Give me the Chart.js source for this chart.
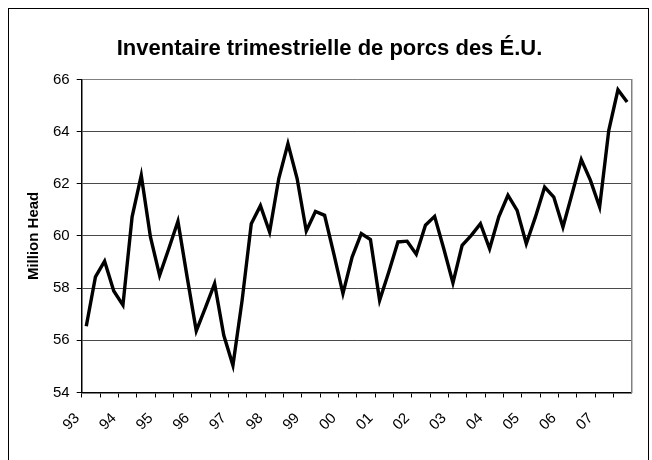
<!DOCTYPE html>
<html>
<head>
<meta charset="utf-8">
<script src="https://cdn.jsdelivr.net/npm/chart.js@4/dist/chart.umd.min.js"></script>
<style>
  html, body { margin: 0; padding: 0; background: #fff; }
  #wrap { position: relative; width: 652px; height: 460px; overflow: hidden; }
  #frame { position: absolute; left: 8px; top: 8px; width: 641px; height: 470px; border: 1.5px solid #000; box-sizing: border-box; pointer-events: none; }
  canvas { position: absolute; left: 0; top: 0; }
</style>
</head>
<body>
<div id="wrap">
  <canvas id="c" width="652" height="460"></canvas>
  <div id="frame"></div>
</div>
<script>
const title = "Inventaire trimestrielle de porcs des É.U.";
const yAxisTitle = "Million Head";
const yearLabels = ["93","94","95","96","97","98","99","00","01","02","03","04","05","06","07"];
const quarters = ["T1","T2","T3","T4"];
const inventory = [
  56.54, 58.43, 59.03, 57.89,
  57.35, 60.73, 62.32, 59.96,
  58.49, 59.51, 60.56, 58.43,
  56.36, 57.25, 58.17, 56.19,
  55.04, 57.53, 60.47, 61.16,
  60.15, 62.20, 63.54, 62.20,
  60.19, 60.94, 60.79, 59.32,
  57.79, 59.19, 60.09, 59.86,
  57.53, 58.62, 59.77, 59.80,
  59.30, 60.41, 60.75, 59.51,
  58.20, 59.64, 60.02, 60.47,
  59.51, 60.73, 61.56, 60.98,
  59.70, 60.73, 61.87, 61.49,
  60.34, 61.62, 62.93, 62.13,
  61.11, 64.05, 65.60, 65.13
];

const categories = [];
yearLabels.forEach(y => quarters.forEach(q => categories.push(y + " " + q)));

const FONT = "'Liberation Sans', Arial, sans-serif";

new Chart(document.getElementById('c'), {
  type: 'line',
  data: {
    labels: categories,
    datasets: [{
      data: inventory,
      borderColor: '#000',
      borderWidth: 3.4,
      pointRadius: 0,
      tension: 0,
      fill: false,
      borderJoinStyle: 'miter'
    }]
  },
  options: {
    responsive: false,
    animation: false,
    devicePixelRatio: 1,
    layout: { padding: { left: 25, right: 18, top: 9, bottom: 14 } },
    plugins: {
      legend: { display: false },
      tooltip: { enabled: false },
      title: {
        display: true,
        text: title,
        color: '#000',
        font: { family: FONT, size: 22, weight: 'bold' },
        padding: { top: 27, bottom: 17 }
      }
    },
    scales: {
      x: {
        type: 'category',
        offset: true,
        grid: {
          offset: true,
          drawOnChartArea: false,
          drawTicks: true,
          tickLength: 5,
          color: ctx => (ctx.index % 2 === 0 ? '#000' : 'rgba(0,0,0,0)'),
          lineWidth: 1
        },
        border: { color: '#000', width: 1.5 },
        ticks: {
          autoSkip: false,
          maxRotation: 45,
          minRotation: 45,
          color: '#000',
          padding: 12,
          labelOffset: -9,
          font: { family: FONT, size: 15 },
          callback: (v, i) => (i % 4 === 0 ? yearLabels[i / 4] : '')
        }
      },
      y: {
        min: 54,
        max: 66,
        ticks: { stepSize: 2, color: '#000', padding: 7, font: { family: FONT, size: 15 } },
        grid: {
          color: ctx => (ctx.tick && ctx.tick.value === 66 ? '#808080' : '#4a4a4a'),
          tickColor: '#000',
          tickLength: 5,
          lineWidth: 1
        },
        border: { color: '#000', width: 1.5 },
        title: {
          display: true,
          text: yAxisTitle,
          color: '#000',
          font: { family: FONT, size: 15, weight: 'bold' },
          padding: { top: 0, bottom: 3 }
        }
      },
      y2: {
        position: 'right',
        min: 54,
        max: 66,
        ticks: { display: false },
        grid: { drawOnChartArea: false, drawTicks: false },
        border: { color: '#808080', width: 1.5 }
      }
    }
  }
});
</script>
</body>
</html>
